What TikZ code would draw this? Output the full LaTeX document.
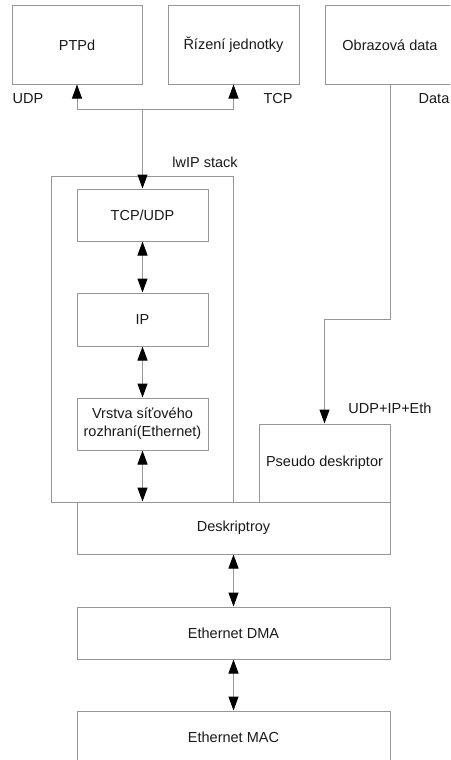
\documentclass[tikz,border=0pt]{standalone}
\usepackage{fontspec}
\setmainfont{Liberation Sans}
\usetikzlibrary{arrows.meta}
\definecolor{edge}{RGB}{150,150,150}
\definecolor{ink}{RGB}{25,25,25}
\tikzset{
  box/.style={draw=edge, line width=1pt, inner sep=0pt, text=ink,
    font=\fontsize{14.5}{18}\selectfont, align=center},
  lbl/.style={inner sep=0pt, text=ink, font=\fontsize{14.5}{18}\selectfont},
  tip/.tip={Triangle[length=14pt,width=10pt,color=black]},
  link/.style={draw=edge, line width=1pt},
  onearrow/.style={link, -tip},
  twoarrow/.style={link, tip-tip},
}
\begin{document}
\begin{tikzpicture}[x=1pt,y=-1pt]
  \clip (0,0) rectangle (450,760);
  \fill[white] (0,0) rectangle (450,760);

  % application layer
  \node[box, minimum width=130pt, minimum height=78pt] (ptpd) at (77,45) {PTPd};
  \node[box, minimum width=131pt, minimum height=78pt] (rizeni) at (233.5,45) {Řízení jednotky};
  \node[box, minimum width=130pt, minimum height=78pt] (obraz) at (390,45) {Obrazová data};
  \node[lbl] (udp) at (28,99) {UDP};
  \node[lbl] (tcp) at (278,99) {TCP};
  \node[lbl] (data) at (434,99) {Data};

  % lwIP stack
  \node[box, minimum width=182pt, minimum height=326pt] (lwip) at (142,339) {};
  \node[lbl] (lwiplbl) at (205,162) {lwIP stack};
  \node[box, minimum width=131pt, minimum height=52pt] (tcpudp) at (142.5,215) {TCP/UDP};
  \node[box, minimum width=131pt, minimum height=53pt] (ip) at (142.5,319.5) {IP};
  \node[box, minimum width=131pt, minimum height=52pt] (vrstva) at (142.5,424) {Vrstva síťového\\rozhraní(Ethernet)};

  % raw image data path
  \node[box, minimum width=131pt, minimum height=78pt] (pseudo) at (324.5,463) {Pseudo deskriptor};
  \node[lbl] (eth) at (390,408) {UDP+IP+Eth};

  % driver and hardware
  \node[box, minimum width=313pt, minimum height=52pt] (deskr) at (233.5,528) {Deskriptroy};
  \node[box, minimum width=313pt, minimum height=52pt] (dma) at (233.5,633) {Ethernet DMA};
  \node[box, minimum width=313pt, minimum height=52pt] (mac) at (233.5,737) {Ethernet MAC};

  % connectors
  \coordinate (split) at (142.5,109);
  \coordinate (turn) at (0,319);
  \draw[onearrow] (split) -| (ptpd.south);
  \draw[onearrow] (split) -| (rizeni.south);
  \draw[onearrow] (split) -- (tcpudp.north);
  \draw[twoarrow] (tcpudp.south) -- (ip.north);
  \draw[twoarrow] (ip.south) -- (vrstva.north);
  \draw[twoarrow] (vrstva.south) -- (vrstva.south |- deskr.north);
  \draw[twoarrow] (deskr.south) -- (dma.north);
  \draw[twoarrow] (dma.south) -- (mac.north);
  \draw[onearrow] (obraz.south) -- (obraz.south |- turn) -| (pseudo.north);
\end{tikzpicture}
\end{document}
